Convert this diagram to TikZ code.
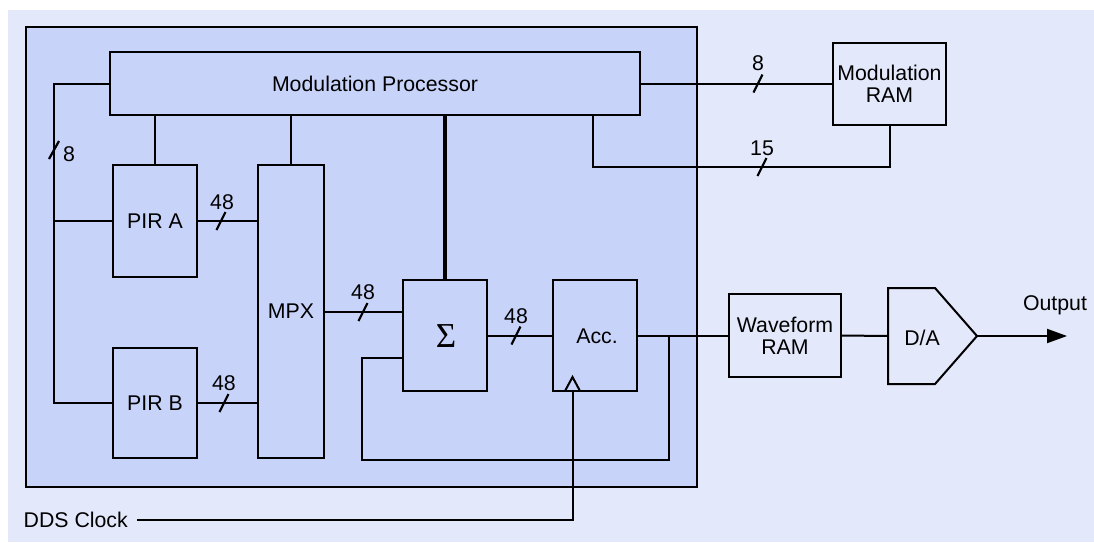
\documentclass[tikz,border=0pt]{standalone}
\usepackage{fontspec}
\setmainfont{Liberation Sans}
\newfontfamily\sigfont{Liberation Serif}
\usetikzlibrary{arrows.meta}
\definecolor{bgcol}{RGB}{227,232,251}
\definecolor{incol}{RGB}{200,211,250}
\begin{document}
\begin{tikzpicture}[x=1pt,y=-1pt,
  every node/.style={font=\fontsize{21.3}{22}\selectfont},
  blk/.style={draw,line width=2pt,fill=incol,inner sep=0pt,align=center},
  wire/.style={line width=2pt},
  thickwire/.style={line width=3.5pt},
  slashmk/.style={line width=2.2pt},
  lbl/.style={inner sep=0pt}]
\useasboundingbox (0,0) rectangle (1094,542);
\fill[bgcol] (8,10) rectangle (1094,542);
% outer block
\draw[line width=2pt,fill=incol] (26,27) rectangle (697,487);
% blocks
\node[blk,minimum width=530pt,minimum height=63pt] (mp) at (375,83.5) {Modulation Processor};
\node[blk,minimum width=84pt,minimum height=112pt] (pira) at (155,221) {PIR A};
\node[blk,minimum width=84pt,minimum height=110pt] (pirb) at (155,403) {PIR B};
\node[blk,minimum width=66pt,minimum height=293pt] (mpx) at (291,311.5) {MPX};
\node[blk,minimum width=84pt,minimum height=111pt] (sig) at (445,335.5) {};
\node[lbl,font=\fontsize{35}{35}\sigfont] (sigt) at (446,336) {Σ};
\node[blk,minimum width=84pt,minimum height=111pt] (acc) at (595,335.5) {};
\node[lbl] (acct) at (597,336) {Acc.};
\node[blk,fill=bgcol,minimum width=112pt,minimum height=83pt] (wram) at (785,335.5) {Waveform\\RAM};
\node[blk,fill=bgcol,minimum width=113pt,minimum height=82pt] (mram) at (889.5,84) {Modulation\\RAM};
% D/A
\coordinate (dain) at (888,336);
\coordinate (daout) at (977,336);
\draw[line width=2pt,fill=bgcol,line join=miter] (888,288) -- (935,288) -- (daout) -- (935,384) -- (888,384) -- cycle;
\node[lbl] (dat) at (922,338) {D/A};
% left bus
\coordinate (lb1) at (54,83.5);
\coordinate (lb2) at (54,221);
\coordinate (lb3) at (54,403);
\draw[wire] (mp.west) -- (lb1) -- (lb3) -- (pirb.west);
\draw[wire] (lb2) -- (pira.west);
\coordinate (k0) at (54,150);
\draw[slashmk] ([shift={(-5,9)}]k0) -- ([shift={(5,-9)}]k0);
\node[lbl] (l0) at (69,154) {8};
% MP down links
\draw[wire] (pira.north) -- (pira.north |- mp.south);
\draw[wire] (mpx.north) -- (mpx.north |- mp.south);
\draw[thickwire] (sig.north) -- (sig.north |- mp.south);
% PIR to MPX
\draw[wire] (pira.east) -- (pira.east -| mpx.west);
\coordinate (k1) at (221,221);
\draw[slashmk] ([shift={(-4.5,9)}]k1) -- ([shift={(4.5,-9)}]k1);
\node[lbl] (l1) at (222,202) {48};
\draw[wire] (pirb.east) -- (pirb.east -| mpx.west);
\coordinate (k2) at (224,403);
\draw[slashmk] ([shift={(-4.5,9)}]k2) -- ([shift={(4.5,-9)}]k2);
\node[lbl] (l2) at (224,383) {48};
% MPX to Sigma
\coordinate (s1) at ([yshift=23.5pt]sig.west);
\coordinate (s2) at ([yshift=-22.5pt]sig.west);
\draw[wire] (s1 -| mpx.east) -- (s1);
\coordinate (k3) at (363,312);
\draw[slashmk] ([shift={(-4.5,9)}]k3) -- ([shift={(4.5,-9)}]k3);
\node[lbl] (l3) at (363,292) {48};
% Sigma to Acc
\draw[wire] (sig.east) -- (acc.west);
\coordinate (k4) at (516,335.5);
\draw[slashmk] ([shift={(-4.5,9)}]k4) -- ([shift={(4.5,-9)}]k4);
\node[lbl] (l4) at (516,316) {48};
% Acc to Waveform RAM and feedback
\draw[wire] (acc.east) -- (wram.west);
\coordinate (fb1) at (669,335.5);
\coordinate (fb2) at (669,460);
\coordinate (fb3) at (362,460);
\draw[wire] (fb1) -- (fb2) -- (fb3) -- (fb3 |- s2) -- (s2);
% clock
\coordinate (clk) at (572.5,391);
\draw[wire,line join=miter] ([xshift=-7.5pt]clk) -- ([yshift=14pt]clk) -- ([xshift=7.5pt]clk);
\node[lbl,anchor=east] (ddst) at (128,520) {DDS Clock};
\coordinate (ck2) at (572.5,520);
\draw[wire] (clk) -- (ck2) -- ([xshift=9pt]ddst.east);
% Waveform RAM to D/A and output
\draw[wire] (wram.east) -- (dain);
\coordinate (outp) at (1067,336);
\draw[wire,-{Triangle[length=20pt,width=14pt]}] (daout) -- (outp);
\node[lbl] (outt) at (1055,305) {Output};
% MP to Modulation RAM
\draw[wire] (mp.east) -- (mp.east -| mram.west);
\coordinate (k5) at (758,83.5);
\draw[slashmk] ([shift={(-4.5,9)}]k5) -- ([shift={(4.5,-9)}]k5);
\node[lbl] (l5) at (758,63) {8};
\coordinate (m1) at (593,115);
\coordinate (m2) at (593,167);
\coordinate (m3) at (890,167);
\draw[wire] (m1) -- (m2) -- (m3) -- (mram.south -| m3);
\coordinate (k6) at (762,167);
\draw[slashmk] ([shift={(-4.5,9)}]k6) -- ([shift={(4.5,-9)}]k6);
\node[lbl] (l6) at (762,148) {15};
\end{tikzpicture}
\end{document}
